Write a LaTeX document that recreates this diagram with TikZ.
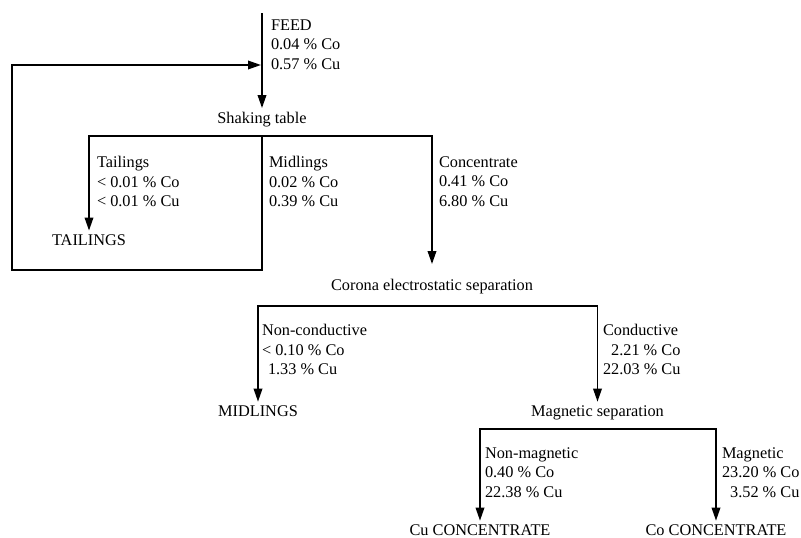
\documentclass[tikz,border=0pt]{standalone}
\usepackage{fontspec}
\setmainfont{Liberation Serif}
\usetikzlibrary{arrows.meta}
\begin{document}
\begin{tikzpicture}[x=1pt,y=-1pt,
  txt/.style={font=\fontsize{16.3}{19.5}\selectfont, inner sep=0pt, outer sep=0pt},
  lbl/.style={txt, align=left, anchor=north west},
  proc/.style={txt, inner sep=4pt, anchor=base},
  endp/.style={txt, inner sep=1pt, anchor=base},
  flow/.style={line width=1.8pt},
  arr/.style={flow, -{Triangle[length=13pt,width=8.5pt]}}]
\useasboundingbox (0,0) rectangle (801,538);

% process nodes
\node[proc] (shake)  at (262,123.4) {Shaking table};
\node[proc] (tail)   at (89,245.4)  {TAILINGS};
\node[proc] (corona) at (432,290.4) {Corona electrostatic separation};
\node[proc] (midl)   at (258,416.5) {MIDLINGS};
\node[proc] (magsep) at (597.5,416.5) {Magnetic separation};
\node[endp] (cucon)  at (480,535.5) {Cu CONCENTRATE};
\node[endp] (cocon)  at (716,535.5) {Co CONCENTRATE};

% stream labels
\node[lbl] (feedl) at (271,19.5)  {FEED\\0.04 \% Co\\0.57 \% Cu};
\node[lbl] (taill) at (97,156.3)  {Tailings\\< 0.01 \% Co\\< 0.01 \% Cu};
\node[lbl] (midll) at (269,156.3) {Midlings\\0.02 \% Co\\0.39 \% Cu};
\node[lbl] (concl) at (439,156.3) {Concentrate\\0.41 \% Co\\6.80 \% Cu};
\node[lbl] (noncl) at (262,324.3) {Non-conductive\\< 0.10 \% Co\\\hspace*{6pt}1.33 \% Cu};
\node[lbl] (condl) at (603,324.3) {Conductive\\\phantom{2}2.21 \% Co\\22.03 \% Cu};
\node[lbl] (nonml) at (485,447.3) {Non-magnetic\\0.40 \% Co\\22.38 \% Cu};
\node[lbl] (magl)  at (722,447.3) {Magnetic\\23.20 \% Co\\\phantom{2}3.52 \% Cu};

% coordinates
\coordinate (feedtop) at (262,13);
\coordinate (s1) at (262,136);
\coordinate (loopA) at (262,270);
\coordinate (loopB) at (12,65);
\coordinate (loopC) at (261,65);
\coordinate (s2) at (432,306);
\coordinate (s3) at (598,429);

% connectors
\draw[arr] (feedtop) -- (shake.north);
\draw[arr] (s1) -| (tail.north);
\draw[arr] (s1) -| ([yshift=11pt]corona.north);
\draw[arr] (s1) -- (loopA) -| (loopB) -- (loopC);
\draw[arr] (s2) -| (midl.north);
\draw[arr] (s2) -| (magsep.north);
\draw[arr] (s3) -| ([yshift=3pt]cucon.north);
\draw[arr] (s3) -| ([yshift=3pt]cocon.north);
\end{tikzpicture}
\end{document}
